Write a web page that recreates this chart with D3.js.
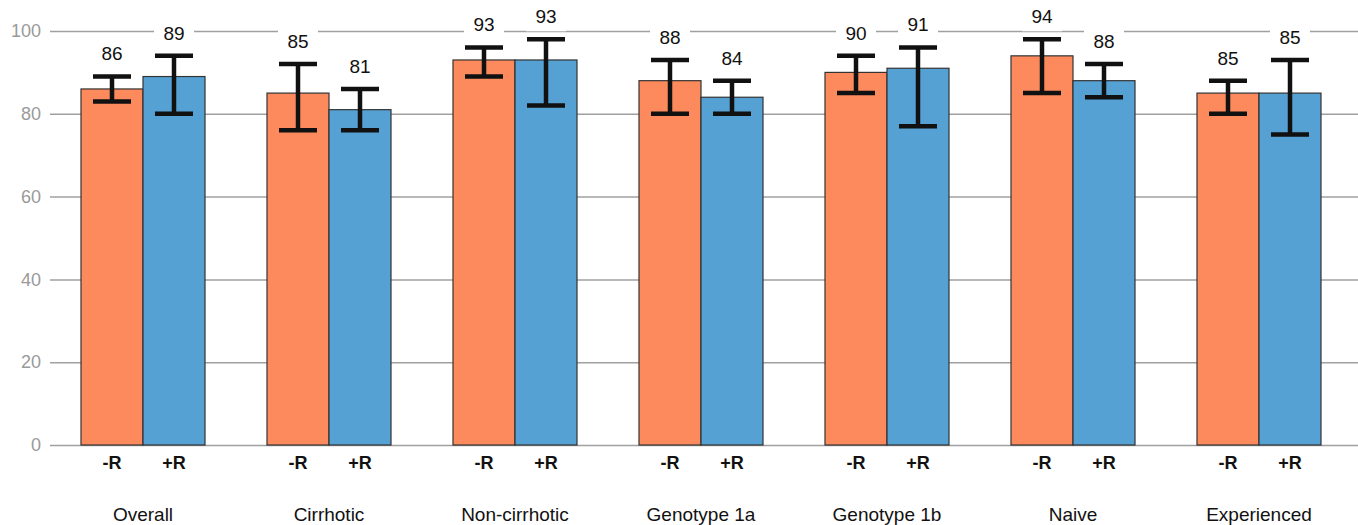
<!DOCTYPE html>
<html>
<head>
<meta charset="utf-8">
<script src="https://cdn.jsdelivr.net/npm/d3@7"></script>
<style>
  body { margin: 0; background: #fff; }
  svg { display: block; font-family: "Liberation Sans", Arial, sans-serif; }
</style>
</head>
<body>
<div id="chart"></div>
<script>
const groups = ['Overall', 'Cirrhotic', 'Non-cirrhotic', 'Genotype 1a', 'Genotype 1b', 'Naive', 'Experienced'];
const series = ['-R', '+R'];
const valuesMinusR = [86, 85, 93, 88, 90, 94, 85];
const valuesPlusR = [89, 81, 93, 84, 91, 88, 85];
const errHighMinusR = [89, 92, 96, 93, 94, 98, 88];
const errLowMinusR = [83, 76, 89, 80, 85, 85, 80];
const errHighPlusR = [94, 86, 98, 88, 96, 92, 93];
const errLowPlusR = [80, 76, 82, 80, 77, 84, 75];
const yTicks = [0, 20, 40, 60, 80, 100];
const colors = ['#fc8a5c', '#55a1d3'];

const width = 1358;
const height = 525;

const rows = [];
groups.forEach((g, i) => {
  rows.push({ group: g, key: '-R', value: valuesMinusR[i], hi: errHighMinusR[i], lo: errLowMinusR[i] });
  rows.push({ group: g, key: '+R', value: valuesPlusR[i], hi: errHighPlusR[i], lo: errLowPlusR[i] });
});

const svg = d3.select('#chart')
  .append('svg')
  .attr('width', width)
  .attr('height', height);

const x0 = d3.scaleBand()
  .domain(groups)
  .range([50, 1352])
  .paddingInner(1 / 3)
  .paddingOuter(1 / 6);

const x1 = d3.scaleBand()
  .domain(series)
  .range([0, x0.bandwidth()]);

const color = d3.scaleOrdinal().domain(series).range(colors);

const y = d3.scaleLinear()
  .domain([0, 100])
  .range([445, 31]);

// gridlines + tick labels
const grid = svg.append('g')
  .attr('transform', 'translate(50, 0)')
  .call(d3.axisLeft(y).tickValues(yTicks).tickSize(-(width - 50)).tickPadding(9));
grid.select('.domain').remove();
grid.selectAll('.tick line').attr('stroke', '#a0a0a0').attr('stroke-width', 1.5);
grid.selectAll('.tick text')
  .attr('fill', '#9a9a9a')
  .attr('font-size', 18)
  .attr('font-family', '"Liberation Sans", Arial, sans-serif');

// bars
const bx = (d) => x0(d.group) + x1(d.key);

svg.append('g')
  .selectAll('rect')
  .data(rows)
  .join('rect')
  .attr('x', bx)
  .attr('y', (d) => y(d.value))
  .attr('width', x1.bandwidth())
  .attr('height', (d) => y(0) - y(d.value))
  .attr('fill', (d) => color(d.key))
  .attr('stroke', '#333')
  .attr('stroke-width', 1.2);

// value labels with white backdrop
const labels = svg.append('g')
  .selectAll('g')
  .data(rows)
  .join('g')
  .attr('transform', (d) => `translate(${bx(d) + x1.bandwidth() / 2}, ${y(d.hi) - 23})`);

labels.append('rect')
  .attr('x', -20)
  .attr('y', -15)
  .attr('width', 40)
  .attr('height', 30)
  .attr('fill', '#fff');

labels.append('text')
  .attr('text-anchor', 'middle')
  .attr('dy', '0.36em')
  .attr('font-size', 19)
  .attr('fill', '#111')
  .text((d) => d.value);

// error bars
const err = svg.append('g')
  .attr('stroke', '#111')
  .attr('stroke-width', 4.5)
  .selectAll('g')
  .data(rows)
  .join('g')
  .attr('transform', (d) => `translate(${bx(d) + x1.bandwidth() / 2}, 0)`);

err.append('line')
  .attr('y1', (d) => y(d.hi))
  .attr('y2', (d) => y(d.lo));
err.append('line')
  .attr('x1', -19).attr('x2', 19)
  .attr('y1', (d) => y(d.hi)).attr('y2', (d) => y(d.hi));
err.append('line')
  .attr('x1', -19).attr('x2', 19)
  .attr('y1', (d) => y(d.lo)).attr('y2', (d) => y(d.lo));

// x labels
svg.append('g')
  .selectAll('text')
  .data(rows)
  .join('text')
  .attr('x', (d) => bx(d) + x1.bandwidth() / 2)
  .attr('y', 463)
  .attr('dy', '0.36em')
  .attr('text-anchor', 'middle')
  .attr('font-size', 18)
  .attr('font-weight', 'bold')
  .attr('fill', '#111')
  .text((d) => d.key);

svg.append('g')
  .selectAll('text')
  .data(groups)
  .join('text')
  .attr('x', (d) => x0(d) + x0.bandwidth() / 2)
  .attr('y', 514)
  .attr('dy', '0.36em')
  .attr('text-anchor', 'middle')
  .attr('font-size', 19)
  .attr('fill', '#111')
  .text((d) => d);
</script>
</body>
</html>
